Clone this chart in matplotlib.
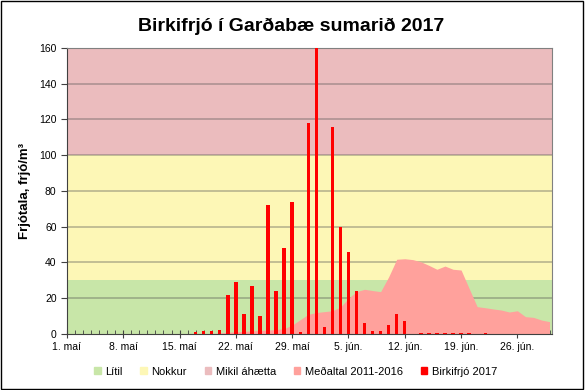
import numpy as np
import matplotlib
matplotlib.use("Agg")
import matplotlib.pyplot as plt
from matplotlib.patches import Patch, Rectangle

plt.rcParams['font.family'] = ['Liberation Sans', 'DejaVu Sans']

# day 0 = 1. maí, day 60 = 30. jún
days = np.arange(61)

# Birkifrjó 2017 (frjó/m3)
birki_2017 = [0, 0, 0, 0, 0, 0, 0, 0, 0, 0,
              0, 0, 0, 0, 0, 0, 1, 1.5, 1.5, 2.5,
              22, 29, 11, 27, 10, 72, 24, 48, 74, 1,
              118, 165, 4, 116, 60, 46, 24, 6, 1.5, 1.5,
              5, 11, 7, 0, 0.7, 0.7, 0.7, 0.7, 0.7, 0.7,
              0.7, 0, 0.7, 0, 0, 0, 0, 0, 0, 0, 0]

# Meðaltal 2011-2016
medaltal = [0, 0, 0, 0, 0, 0, 0, 0, 0, 0,
            0, 0, 0, 0, 0, 0, 0, 0, 0.3, 0.6,
            1, 1.2, 1.5, 1.7, 2, 2.2, 2.5, 3, 5, 8,
            11, 12, 12.5, 13, 15, 20, 23.7, 25, 24.3, 23.7,
            32, 41.8, 42.1, 41.6, 40.4, 38.4, 36.2, 38, 36.2, 35.8,
            25.5, 15.3, 14.7, 14, 13.4, 12.3, 13, 9.7, 9.3, 7.8, 6.9]

# áhættumörk
bands = [(0, 30, '#C8E6A8', 'Lítil'),
         (30, 100, '#FDF7B6', 'Nokkur'),
         (100, 160, '#EBBCBE', 'Mikil áhætta')]

tick_days = [0, 7, 14, 21, 28, 35, 42, 49, 56]
tick_labels = ['1. maí', '8. maí', '15. maí', '22. maí', '29. maí',
               '5. jún.', '12. jún.', '19. jún.', '26. jún.']

fig = plt.figure(figsize=(5.85, 3.9), dpi=100)
ax = fig.add_axes([0.1145, 0.1436, 0.829, 0.7334])

xmin, xmax = 0, 60.3
for lo, hi, col, lab in bands:
    ax.axhspan(lo, hi, color=col, zorder=0, lw=0)

for yv in range(20, 160, 20):
    ax.axhline(yv, color='#505050', alpha=0.4, lw=1.2, zorder=1)

ax.fill_between(days, medaltal, color='#FFA19C', lw=0, zorder=2)
ax.bar(days, birki_2017, width=0.42, color='#FF0000', zorder=3)

ax.set_xlim(xmin, xmax)
ax.set_ylim(0, 160)
ax.set_yticks(range(0, 161, 20))
ax.set_xticks(tick_days)
ax.set_xticklabels(tick_labels)
ax.set_xticks(days, minor=True)
ax.tick_params(axis='x', which='major', direction='inout', length=6,
               color='#404040', labelsize=7.5, pad=3)
ax.tick_params(axis='x', which='minor', direction='in', length=3,
               color='#404040')
ax.tick_params(axis='y', direction='out', length=4, color='#404040',
               labelsize=7.5)
for sp in ax.spines.values():
    sp.set_color('#808080')
ax.spines['bottom'].set_color('#404040')
ax.spines['left'].set_color('#404040')

ax.set_ylabel('Frjótala, frjó/m³', fontsize=9.5, fontweight='bold', labelpad=6)
fig.suptitle('Birkifrjó í Garðabæ sumarið 2017', fontsize=14,
             fontweight='bold', x=0.498, y=0.955)

handles = [Patch(color=c) for _, _, c, _ in bands]
handles += [Patch(color='#FFA19C'), Patch(color='#FF0000')]
labels = [b[3] for b in bands] + ['Meðaltal 2011-2016', 'Birkifrjó 2017']
fig.legend(handles, labels, loc='center', bbox_to_anchor=(0.505, 0.047),
           ncol=5, frameon=False, fontsize=8, handlelength=0.6,
           handleheight=0.6, handletextpad=0.4, columnspacing=1.6)

fig.patches.append(Rectangle((0.002, 0.003), 0.995, 0.994,
                             transform=fig.transFigure, fill=False,
                             edgecolor='black', lw=1))

fig.savefig('out.png', dpi=100)
